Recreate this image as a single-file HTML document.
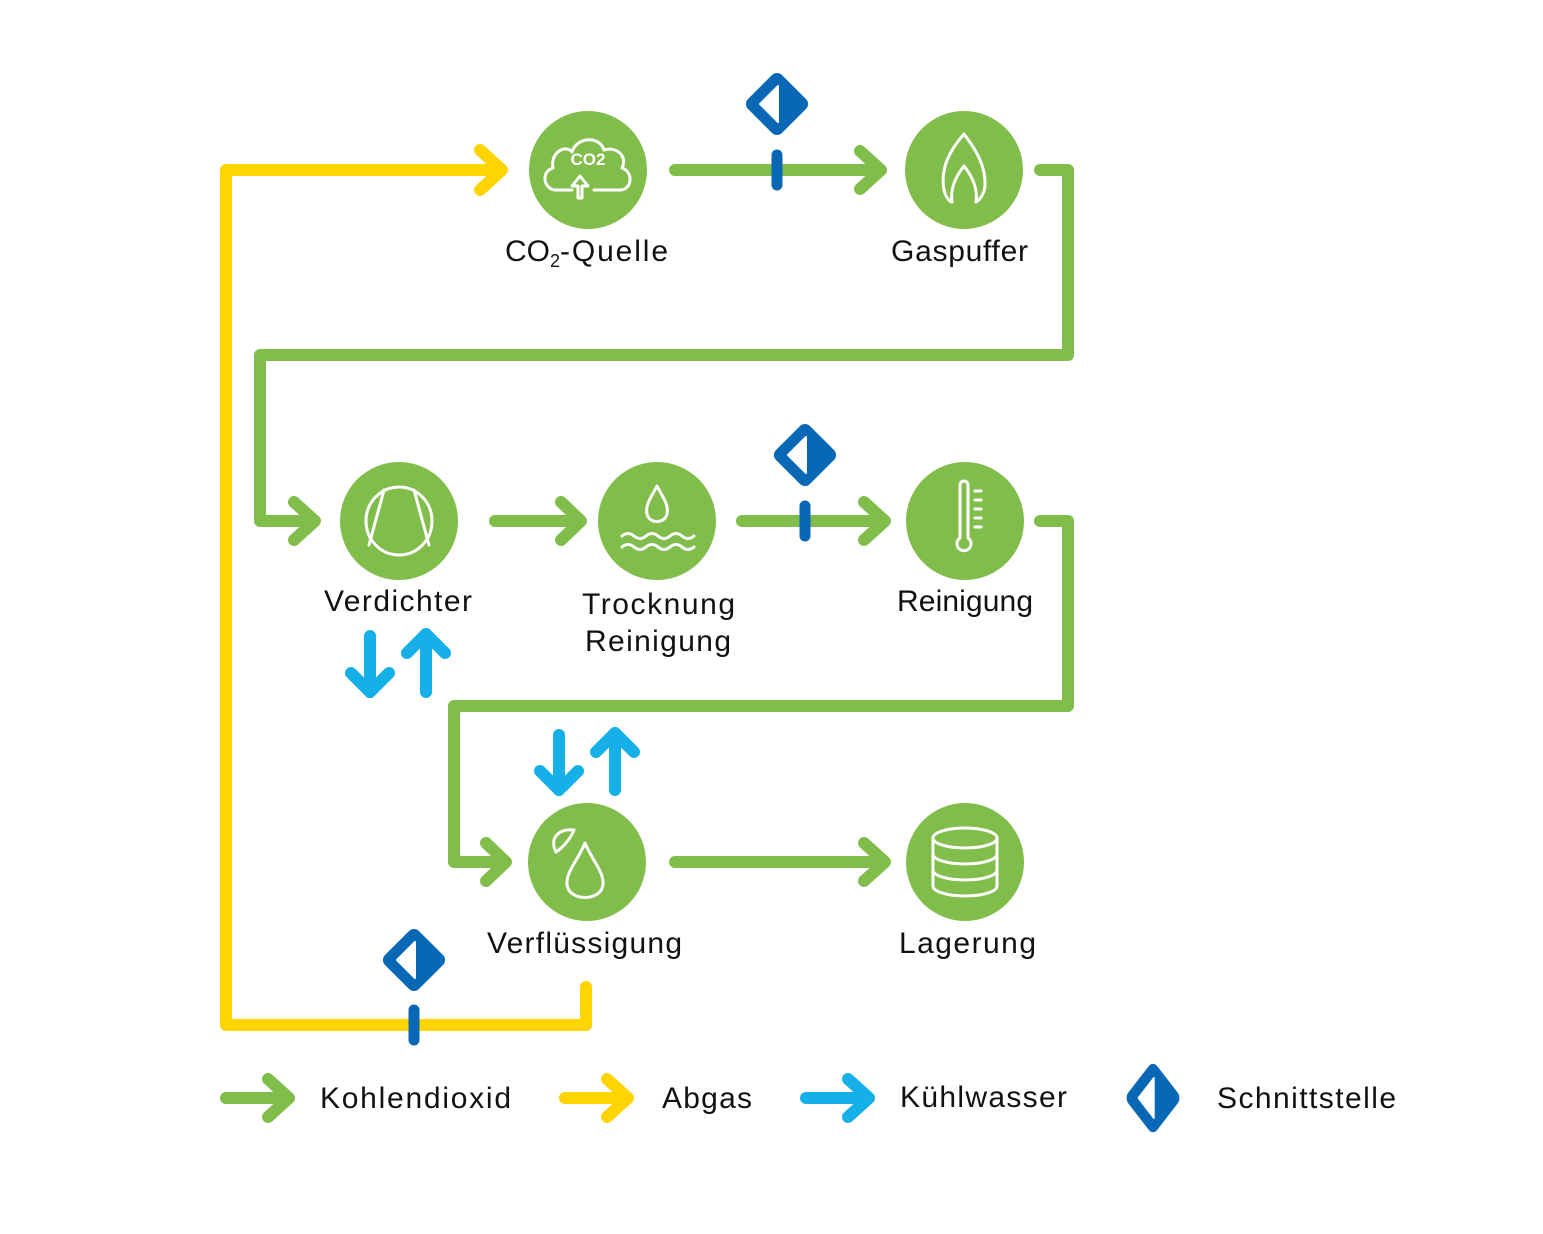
<!DOCTYPE html>
<html><head><meta charset="utf-8"><style>
html,body{margin:0;padding:0;background:#fff;}
svg{display:block;}
text{font-family:"Liberation Sans",sans-serif;fill:#111;}
</style></head><body>
<svg width="1543" height="1234" viewBox="0 0 1543 1234" xmlns="http://www.w3.org/2000/svg">
<defs>
<g id="dia">
  <rect x="-24" y="-24" width="48" height="48" rx="7" transform="rotate(45)" fill="#0868b5"/>
  <path d="M-17,0 L1,-18 L1,18 Z" fill="#fff" stroke="#fff" stroke-width="2" stroke-linejoin="round"/>
</g>
</defs>
<g fill="none" stroke-linecap="round" stroke-linejoin="round" stroke-width="12">
  <path d="M586,987 V1025 H226 V170 H497" stroke="#ffd400"/>
  <path d="M480,150 L502,170 L480,190" stroke="#ffd400"/>
  <g stroke="#80bd4b">
    <path d="M675,170 H878"/><path d="M860,151 L881,170 L860,189"/>
    <path d="M1040,170 H1068 V355 H260 V521 H312"/><path d="M294,502 L315,521 L294,540"/>
    <path d="M495,521 H578"/><path d="M561,502 L581,521 L561,540"/>
    <path d="M742,521 H882"/><path d="M864,502 L885,521 L864,540"/>
    <path d="M1040,521 H1068 V706 H454 V862 H503"/><path d="M486,843 L506,862 L486,881"/>
    <path d="M675,862 H882"/><path d="M864,843 L885,862 L864,881"/>
  </g>
  <g stroke="#15b0e8">
    <path d="M370,636 V692"/><path d="M351,673 L370,692 L389,673"/>
    <path d="M426,692 V634"/><path d="M407,653 L426,634 L445,653"/>
    <path d="M559,735 V790"/><path d="M540,771 L559,790 L578,771"/>
    <path d="M615,790 V733"/><path d="M596,752 L615,733 L634,752"/>
  </g>
  <g stroke="#0868b5" stroke-width="11">
    <path d="M777,155 V185"/><path d="M805,506 V536"/><path d="M414,1010 V1040"/>
  </g>
  <path d="M226,1098 H286" stroke="#80bd4b"/><path d="M268,1079 L289,1098 L268,1117" stroke="#80bd4b"/>
  <path d="M565,1098 H625" stroke="#ffd400"/><path d="M607,1079 L628,1098 L607,1117" stroke="#ffd400"/>
  <path d="M806,1098 H866" stroke="#15b0e8"/><path d="M848,1079 L869,1098 L848,1117" stroke="#15b0e8"/>
</g>
<use href="#dia" x="777" y="104"/>
<use href="#dia" x="805" y="455"/>
<use href="#dia" x="414" y="960"/>
<g transform="translate(1153,1098) scale(0.85,1.1)"><use href="#dia"/></g>

<g fill="#80bd4b">
  <circle cx="588" cy="170" r="59"/><circle cx="964" cy="170" r="59"/>
  <circle cx="399" cy="521" r="59"/><circle cx="657" cy="521" r="59"/><circle cx="965" cy="521" r="59"/>
  <circle cx="587" cy="862" r="59"/><circle cx="965" cy="862" r="59"/>
</g>
<g fill="none" stroke="#fff" stroke-width="3" stroke-linecap="round" stroke-linejoin="round">
  <path d="M572,190 H556 C544,190 540,172 553,168 C550,152 566,144 572,152 C577,136 600,136 604,150 C616,146 628,156 622,168 C634,172 632,190 620,190 H594"/>
  <path d="M578,198 V186 H572 L580,176 L588,186 H582 V198 Z"/>
  <path d="M964,134 C950,150 940,168 944,190 C946,198 950,202 952,202 C950,188 956,176 964,166 C972,176 978,188 976,202 C980,200 984,194 985,186 C986,166 976,150 964,134 Z"/>
  <ellipse cx="399" cy="521" rx="33" ry="34"/>
  <path d="M384,490 L369,545 M414,490 L429,545"/>
  <path d="M657,486 C652,496 645,504 647,514 C649,524 665,524 667,514 C669,504 662,496 657,486 Z"/>
  <path d="M622,536 q6,-5 12,0 t12,0 t12,0 t12,0 t12,0 t12,0"/>
  <path d="M622,547 q6,-5 12,0 t12,0 t12,0 t12,0 t12,0 t12,0"/>
  <path d="M960,485 V538 A7,7 0 1 0 968,538 V485 A4,4 0 0 0 960,485 Z"/>
  <path d="M975,491 H981 M975,500 H981 M975,509 H981 M975,518 H981 M975,527 H981"/>
  <path d="M585,843 C578,860 566,872 567,884 C568,902 602,902 603,884 C604,872 592,860 585,843 Z"/>
  <path d="M574,830 C562,828 548,836 556,852 C562,848 570,840 574,830 Z"/>
  <ellipse cx="965" cy="838" rx="32" ry="10"/>
  <path d="M933,838 V886 A32,10 0 0 0 997,886 V838 M933,854 A32,10 0 0 0 997,854 M933,870 A32,10 0 0 0 997,870"/>
</g>
<text x="588" y="165" font-size="17" font-weight="bold" text-anchor="middle" style="fill:#fff">CO2</text>

<g font-size="30">
  <text x="505" y="261">CO<tspan font-size="18" dy="6">2</tspan><tspan dy="-6" textLength="108">-Quelle</tspan></text>
  <text x="891" y="261" textLength="137">Gaspuffer</text>
  <text x="324" y="611" textLength="148">Verdichter</text>
  <text x="582" y="614" textLength="153">Trocknung</text>
  <text x="585" y="651" textLength="146">Reinigung</text>
  <text x="897" y="611" textLength="136">Reinigung</text>
  <text x="487" y="953" textLength="195">Verflüssigung</text>
  <text x="899" y="953" textLength="137">Lagerung</text>
  <text x="320" y="1108" textLength="191">Kohlendioxid</text>
  <text x="662" y="1108" textLength="90">Abgas</text>
  <text x="900" y="1107" textLength="167">Kühlwasser</text>
  <text x="1217" y="1108" textLength="179">Schnittstelle</text>
</g>
</svg>
</body></html>
